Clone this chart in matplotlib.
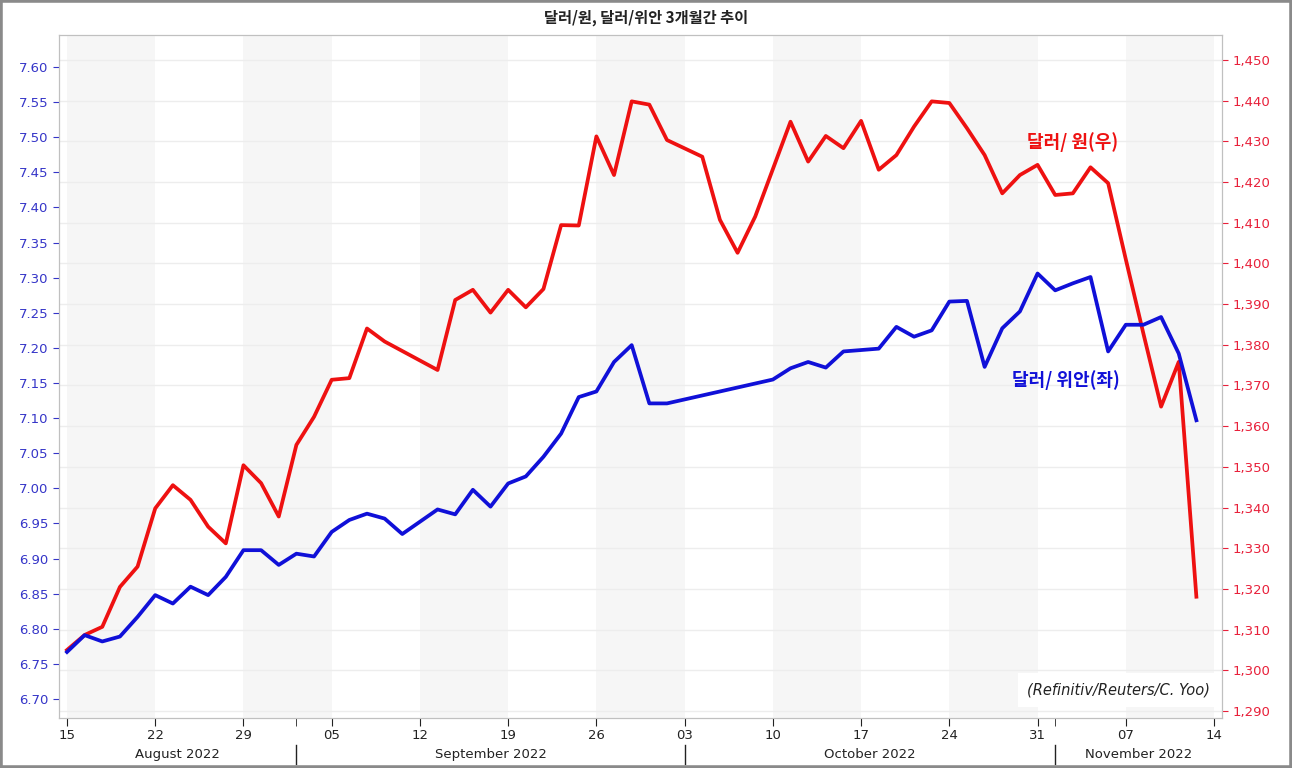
import matplotlib
matplotlib.use('Agg')
import matplotlib.pyplot as plt
import matplotlib.transforms as mtransforms
from matplotlib.patches import Rectangle
import numpy as np
import pandas as pd

# 한국어 텍스트용 폰트
plt.rcParams['font.family'] = ['DejaVu Sans', 'Noto Sans CJK KR']
KR = ['Noto Sans CJK KR', 'DejaVu Sans']

# 데이터 (영업일 기준, 2022-08-15 ~ 2022-11-11), None = 휴장
start, end, axis_end = '2022-08-15', '2022-11-11', '2022-11-14'
krw = [1305.0, 1308.7, 1310.7, 1320.5, 1325.5, 1339.8, 1345.5, 1341.9, 1335.3, 1331.2,
       1350.4, 1346.0, 1337.8, 1355.4, 1362.3, 1371.4, 1371.8, 1384.0, 1380.8, None,
       None, 1373.8, 1391.0, 1393.5, 1387.9, 1393.5, 1389.2, 1393.7, 1409.4, 1409.3,
       1431.2, 1421.7, 1439.8, 1439.0, 1430.3, None, 1426.2, 1410.7, 1402.6, 1411.5,
       None, 1434.8, 1425.0, 1431.3, 1428.3, 1435.0, 1423.0, 1426.6, 1433.6, 1439.8,
       1439.4, 1433.2, 1426.6, 1417.2, 1421.7, 1424.2, 1416.8, 1417.2, 1423.6, 1419.7,
       1401.0, 1382.7, 1364.8, 1375.8, 1318.1]
cny = [6.767, 6.791, 6.782, 6.789, 6.817, 6.848, 6.836, 6.860, 6.848, 6.874,
       6.912, 6.912, 6.891, 6.907, 6.903, 6.938, 6.955, 6.964, 6.957, 6.935,
       None, 6.970, 6.963, 6.998, 6.974, 7.007, 7.017, 7.045, 7.078, 7.130,
       7.138, 7.180, 7.204, 7.121, 7.121, None, None, None, None, None,
       7.155, 7.171, 7.180, 7.172, 7.195, 7.197, 7.199, 7.230, 7.216, 7.225,
       7.266, 7.267, 7.173, 7.228, 7.252, 7.306, 7.282, 7.292, 7.301, 7.195,
       7.233, 7.233, 7.244, 7.192, 7.097]

krw_ticks = list(range(1290, 1451, 10))
cny_ticks = [round(6.70 + 0.05 * k, 2) for k in range(19)]

days = pd.bdate_range(start, end)
axis_days = pd.bdate_range(start, axis_end)
x = np.arange(len(days))
krw_a = np.array(krw, dtype=float)
cny_a = np.array(cny, dtype=float)

RED = '#ee1111'
BLUE = '#1010d8'

fig = plt.figure(figsize=(12.92, 7.68), dpi=100)
ax = fig.add_axes([0.0457, 0.0651, 0.9001, 0.8893])   # 달러/원 (오른쪽 축)
axl = ax.twinx()                                       # 달러/위안 (왼쪽 축)

# 주간 음영
mondays = [i for i, d in enumerate(axis_days) if d.weekday() == 0]
for k in range(0, len(mondays) - 1, 2):
    ax.axvspan(mondays[k], mondays[k + 1], color='#f6f6f6', lw=0, zorder=0)

ax.set_xlim(-0.45, 65.45)
ax.set_ylim(1288.3, 1456.1)
axl.set_ylim(6.673, 7.6456)

ax.set_yticks(krw_ticks)
ax.set_yticklabels([f'{v:,}' for v in krw_ticks])
ax.grid(axis='y', color='#ededed', lw=1)
ax.set_axisbelow(True)
axl.set_yticks(cny_ticks)
axl.set_yticklabels([f'{v:.2f}' for v in cny_ticks])

ax.yaxis.set_ticks_position('right')
ax.yaxis.set_label_position('right')
axl.yaxis.set_ticks_position('left')
axl.yaxis.set_label_position('left')

ax.tick_params(axis='y', labelcolor='#e8203a', color='#e8203a', labelsize=9.5, length=4)
axl.tick_params(axis='y', labelcolor='#3535c8', color='#3535c8', labelsize=9.5, length=4)

# 선
ok = ~np.isnan(krw_a)
ax.plot(x[ok], krw_a[ok], color=RED, lw=2.7, solid_joinstyle='round', zorder=3)
ok = ~np.isnan(cny_a)
axl.plot(x[ok], cny_a[ok], color=BLUE, lw=2.7, solid_joinstyle='round', zorder=3)

# x축 눈금
ax.set_xticks(mondays)
ax.set_xticklabels([axis_days[i].strftime('%d') for i in mondays])
ax.tick_params(axis='x', labelsize=9.5, length=6, colors='#222222', pad=2)

seps = [i for i in range(1, len(axis_days)) if axis_days[i].month != axis_days[i - 1].month]
ax.set_xticks(seps, minor=True)
ax.tick_params(axis='x', which='minor', length=6, color='#222222')

trans = mtransforms.blended_transform_factory(ax.transData, ax.transAxes)
bounds = [ax.get_xlim()[0]] + seps + [ax.get_xlim()[1]]
for k in range(len(bounds) - 1):
    mid = (bounds[k] + bounds[k + 1]) / 2
    month = axis_days[seps[k - 1]] if k > 0 else axis_days[0]
    ax.text(mid, -0.054, month.strftime('%B %Y'), transform=trans,
            ha='center', va='center', fontsize=9.5, color='#222222')
for s in seps:
    ax.plot([s, s], [-0.04, -0.068], transform=trans, color='#222222', lw=1, clip_on=False)

for a in (ax, axl):
    for sp in a.spines.values():
        sp.set_color('#c0c0c0')

# 라벨
ax.text(57.0, 1429.8, '달러/ 원(우)', color=RED, fontsize=13, fontweight='bold',
        ha='center', va='center', family=KR)
axl.text(56.6, 7.154, '달러/ 위안(좌)', color=BLUE, fontsize=13, fontweight='bold',
         ha='center', va='center', family=KR)
axl.text(0.99, 0.041, '(Refinitiv/Reuters/C. Yoo)', transform=ax.transAxes,
         ha='right', va='center', fontsize=10.5, style='italic', color='#222222',
         bbox=dict(facecolor='white', edgecolor='none', pad=7), zorder=5)

fig.text(0.5, 1 - 18 / 768, '달러/원, 달러/위안 3개월간 추이', ha='center', va='center',
         fontsize=11, fontweight='bold', family=KR, color='#222222')

fig.patches.append(Rectangle((0, 0), 1, 1, transform=fig.transFigure, fill=False,
                             edgecolor='#8a8a8a', lw=4))

fig.savefig('out.png', dpi=100)
